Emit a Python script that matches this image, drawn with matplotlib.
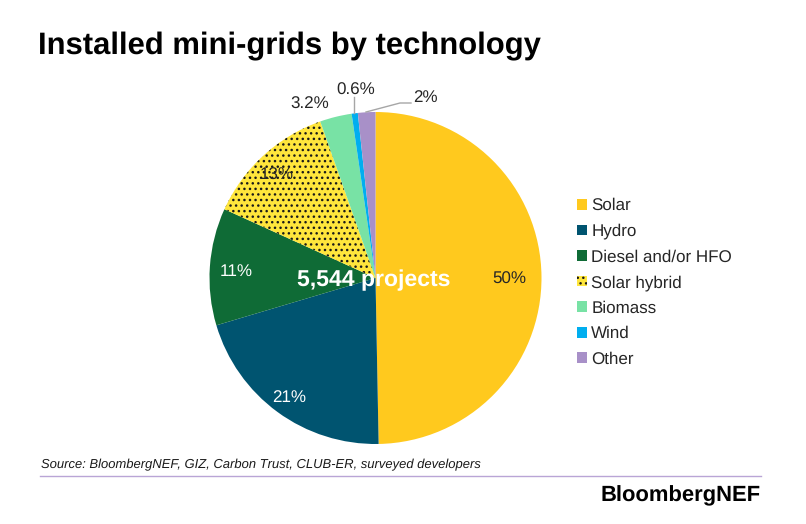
import matplotlib
matplotlib.use("Agg")
import matplotlib.pyplot as plt
from matplotlib.lines import Line2D

plt.rcParams['font.family'] = ['Liberation Sans', 'DejaVu Sans']
plt.rcParams['hatch.linewidth'] = 1.0
plt.rcParams['text.hinting'] = 'no_hinting'
plt.rcParams['text.hinting_factor'] = 1

categories = ['Solar', 'Hydro', 'Diesel and/or HFO', 'Solar hybrid', 'Biomass', 'Wind', 'Other']
values = [49.7, 20.7, 11.4, 12.8, 3.1, 0.6, 1.7]
value_labels = ['50%', '21%', '11%', '13%', '3.2%', '0.6%', '2%']
colors = ['#FFC91E', '#005470', '#0F6B36', '#FFE63C', '#78E2A5', '#00AEEF', '#A890C8']
label_px = [(509, 279), (289, 398), (236, 272), (277, 175), (310, 104), (356, 90), (425, 98)]
label_colors = ['#262626', 'white', 'white', '#262626', '#262626', '#262626', '#262626']

W, H = 806, 524
fig = plt.figure(figsize=(W / 100, H / 100), dpi=100, facecolor='white')

def fx(x): return x / W
def fy(y): return 1 - y / H

cx, cy, r = 375.5, 278, 166
ax = fig.add_axes([fx(cx - r), fy(cy + r), 2 * r / W, 2 * r / H])
wedges, _ = ax.pie(values, colors=colors, startangle=90, counterclock=False, radius=1,
                   wedgeprops={'linewidth': 0})
ax.set_xlim(-1, 1)
ax.set_ylim(-1, 1)
ax.set_aspect('equal')
wedges[3].set_hatch('...')
wedges[3].set_edgecolor('#1a1a1a')
wedges[3].set_linewidth(0)

fig.text(fx(38), fy(46), 'Installed mini-grids by technology', fontsize=22.6, fontweight='bold',
         color='black', ha='left', va='center')

for txt, (x, y), c in zip(value_labels, label_px, label_colors):
    fig.text(fx(x), fy(y), txt, fontsize=12.3, color=c, ha='center', va='center', zorder=5)

fig.text(fx(374), fy(280), '5,544 projects', fontsize=16.3, fontweight='bold', color='white',
         ha='center', va='center', zorder=6)

leader = '#A6A6A6'
fig.add_artist(Line2D([fx(354), fx(354)], [fy(113), fy(97)], color=leader, lw=1.0))
fig.add_artist(Line2D([fx(366), fx(400), fx(411)], [fy(112), fy(103), fy(103)], color=leader, lw=1.0))

handles = [plt.Rectangle((0, 0), 1, 1, facecolor=c, edgecolor='none') for c in colors]
handles[3].set_hatch('...')
handles[3].set_edgecolor('#1a1a1a')
handles[3].set_linewidth(0)
leg = fig.legend(handles, categories, loc='upper left', bbox_to_anchor=(fx(577), fy(198)),
                 frameon=False, fontsize=12.3, handlelength=0.58, handleheight=0.58,
                 handletextpad=0.25, labelspacing=0.57, borderpad=0, borderaxespad=0,
                 labelcolor='#262626')

fig.text(fx(41), fy(465), 'Source: BloombergNEF, GIZ, Carbon Trust, CLUB-ER, surveyed developers',
         fontsize=9.4, fontstyle='italic', color='#1a1a1a', ha='left', va='center')
fig.add_artist(Line2D([fx(40), fx(761)], [fy(475.5), fy(475.5)], color='#B9A5D6', lw=1.0))
fig.text(fx(761), fy(496), 'BloombergNEF', fontsize=16, fontweight='bold', color='black',
         ha='right', va='center')

fig.savefig('out.png', dpi=100)
